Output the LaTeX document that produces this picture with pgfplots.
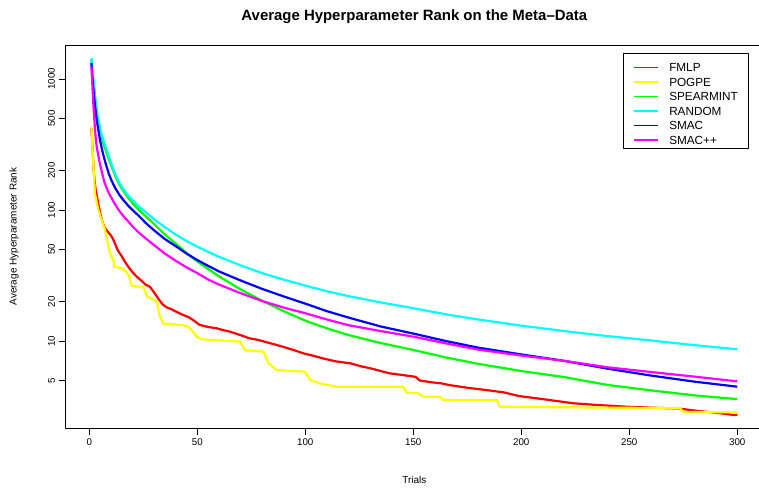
\documentclass[border=0pt]{standalone}
\usepackage{fontspec}
\setmainfont{Liberation Sans}
\usepackage{pgfplots}
\pgfplotsset{compat=1.18}
\definecolor{cR}{RGB}{255,0,0}
\definecolor{cY}{RGB}{255,255,0}
\definecolor{cG}{RGB}{0,255,0}
\definecolor{cC}{RGB}{0,255,255}
\definecolor{cB}{RGB}{0,0,255}
\definecolor{cM}{RGB}{255,0,255}
\pgfplotsset{limg/.style={legend image code/.code={\fill[fill=#1, draw=none] (0bp,3.38bp) rectangle (24bp,5.08bp);}}}
\begin{document}
\begin{tikzpicture}
\useasboundingbox (0bp,0bp) rectangle (759bp,488bp);
\begin{axis}[
 at={(65.6bp,60bp)}, anchor=south west,
 scale only axis, width=697.5bp, height=383bp,
 xmin=-10.96, xmax=311.96,
 ymode=log, ymin=2.168, ymax=1817,
 xtick={0,50,100,150,200,250,300},
 ytick={5,10,20,50,100,200,500,1000},
 yticklabels={5,10,20,50,100,200,500,1000},
 yminorticks=false,
 xtick pos=bottom, ytick pos=left,
 tick align=outside,
 major tick length=7bp,
 every tick/.style={black, line width=0.75bp},
 axis line style={black, line width=0.75bp},
 /pgf/number format/assume math mode=true,
 ticklabel style={font=\fontsize{9.8}{11}\selectfont},
 yticklabel style={rotate=90, anchor=south},
 xticklabel style={anchor=north},
 title={Average Hyperparameter Rank on the Meta--Data},
 title style={font=\bfseries\fontsize{15}{17}\selectfont, at={(axis description cs:0.5,1.0574)}, anchor=center},
 xlabel={Trials},
 ylabel={Average Hyperparameter Rank},
 label style={font=\fontsize{12.3}{14}\selectfont},
 every axis x label/.style={at={(axis description cs:0.5,-0.1357)}, anchor=center},
 every axis y label/.style={at={(axis description cs:-0.074,0.5)}, rotate=90, anchor=center},
 legend style={at={(rel axis cs:0.9784,0.9791)}, anchor=north east, draw=black,
   font=\fontsize{11.8}{13}\selectfont, inner xsep=10bp, inner ysep=4.1bp, row sep=0bp,
   nodes={inner xsep=0bp, inner ysep=0bp, text height=14.46bp, text depth=0bp, anchor=base west},
   column sep=11.7bp},
 legend cell align=left,
 line join=round,
]
\addplot[color=cR, line width=2.2bp, limg=cR] coordinates {
(1,420)(1.5,300)(2,205)(2.5,165)(3,140)(3.5,128)(4,115)(5,95)(6,82)(7,74)(8,70)(9,67)(10,64)(11,60)(12,55)(13,50)(14,47)(15,44.5)(16,41.5)(18,37)(20,33.5)(22,31)(24,29)(26,27)(28,26)(30,23.5)(32,21)(34,19)(36,18)(38,17.5)(41,16.5)(43.5,15.8)(46,15.2)(48,14.5)(51,13.3)(55,12.8)(59,12.5)(62,12.1)(65,11.8)(70,11.1)(74,10.5)(78,10.2)(81,9.9)(85,9.5)(90,9.0)(95,8.5)(99,8.06)(104,7.7)(108,7.38)(114,7.0)(121,6.75)(126,6.4)(130,6.2)(135,5.9)(139,5.67)(145,5.5)(151,5.33)(153,5.0)(158,4.85)(163,4.75)(167,4.6)(175,4.4)(185,4.2)(192,4.05)(199,3.8)(210,3.6)(224,3.35)(235,3.25)(249,3.15)(260,3.1)(273,3.05)(280,2.95)(286,2.88)(293,2.8)(298,2.73)(300,2.72)
};
\addlegendentry{FMLP}
\addplot[color=cY, line width=2.2bp, limg=cY] coordinates {
(1,432)(1.6,271)(2.6,134)(4.2,100)(5.7,84)(7.3,70)(8.5,56)(9.6,46.7)(11.1,41.5)(11.6,37)(13,36.5)(15,36)(17,34)(18.5,31)(19.6,26.5)(22,26)(25,26)(26.6,22)(29,21)(31.2,20)(32.7,15.3)(34.3,13.6)(43.5,13.2)(45.8,12.9)(47.4,12.1)(49.7,10.8)(52,10.3)(56.7,10.2)(69.8,9.9)(72.1,8.5)(80.6,8.3)(82.9,6.8)(86.7,6.0)(99.9,5.83)(102.2,5.04)(106.8,4.75)(114.5,4.48)(145.4,4.48)(146.9,4.03)(152.3,4.0)(154.6,3.76)(162.4,3.76)(163.9,3.55)(188.6,3.55)(190,3.15)(273.5,3.07)(275,2.88)(300,2.85)
};
\addlegendentry{POGPE}
\addplot[color=cG, line width=2.2bp, limg=cG] coordinates {
(1,1400)(1.5,1120)(2,930)(2.5,760)(3,640)(3.5,560)(4,490)(5,400)(6,345)(7,305)(8,272)(9,245)(10,222)(12,182)(14,155)(16,138)(18,124)(20,113)(23,100)(26,90)(30,78)(35,65)(40,55.5)(45,47)(50,40.5)(55,35.5)(60,31.2)(70,24.8)(80,20.3)(90,16.9)(100,14.3)(110,12.5)(120,11.1)(135,9.65)(150,8.55)(165,7.5)(180,6.7)(200,5.9)(220,5.3)(240,4.62)(260,4.2)(280,3.85)(300,3.6)
};
\addlegendentry{SPEARMINT}
\addplot[color=cC, line width=2.2bp, limg=cC] coordinates {
(1,1440)(1.5,1150)(2,960)(2.5,780)(3,660)(3.5,580)(4,510)(5,420)(6,365)(7,325)(8,290)(9,258)(10,232)(12,188)(14,160)(16,143)(18,129)(20,119)(23,106)(26,97)(30,85)(35,74)(40,65)(45,58)(50,52.5)(55,48)(60,44)(70,37.8)(80,33)(90,29.4)(100,26.5)(110,24.0)(120,22.0)(135,19.7)(150,17.8)(165,16.0)(180,14.6)(200,13.1)(220,11.9)(240,10.9)(260,10.1)(280,9.3)(300,8.65)
};
\addlegendentry{RANDOM}
\addplot[color=cB, line width=2.2bp, limg=cB] coordinates {
(1,1320)(1.5,1000)(2,800)(2.5,660)(3,560)(3.5,480)(4,425)(5,340)(6,285)(7,245)(8,215)(9,190)(10,172)(12,147)(14,130)(16,118)(18,108)(20,100)(23,90)(26,80)(30,70)(35,60)(40,53)(45,46.5)(50,41.5)(55,37.5)(60,34.0)(70,29.0)(80,25.0)(90,21.9)(100,19.3)(110,16.9)(120,15.1)(135,12.9)(150,11.4)(165,10.0)(180,8.9)(200,7.9)(220,7.05)(240,6.15)(260,5.45)(280,4.9)(300,4.48)
};
\addlegendentry{SMAC}
\addplot[color=cM, line width=2.2bp, limg=cM] coordinates {
(1,1240)(1.5,850)(2,600)(2.5,450)(3,350)(3.5,300)(4,270)(5,222)(6,190)(7,163)(8,148)(9,135)(10,126)(12,110)(14,98)(16,89)(18,82)(20,75)(23,67)(26,61)(30,54)(35,46.5)(40,41)(45,36.5)(50,33)(55,29.5)(60,27)(70,23.2)(80,20.2)(90,18.0)(100,16.3)(110,14.6)(120,13.2)(135,11.9)(150,10.8)(165,9.6)(180,8.6)(200,7.75)(220,7.05)(240,6.3)(260,5.8)(280,5.35)(300,4.92)
};
\addlegendentry{SMAC++}
\end{axis}
\end{tikzpicture}
\end{document}
